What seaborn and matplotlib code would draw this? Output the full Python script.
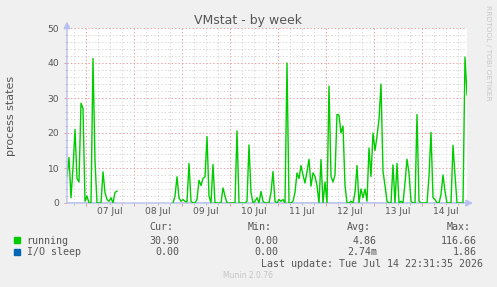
import numpy as np
import pandas as pd
import matplotlib
matplotlib.use("Agg")
import matplotlib.pyplot as plt
import matplotlib.dates as mdates
from matplotlib.ticker import MultipleLocator, NullFormatter, FuncFormatter
from matplotlib.patches import Rectangle
import seaborn as sns

nan = np.nan
# hourly samples, first one at 06 Jul 14:30
start = "2026-07-06 14:30"
running = [7.5, 13, 1.5, 10, 21, 7, 6, 28.5, 27, 0.5,
           2, 0, 0, 41.3, 12, 0, 0, 0, 8.9, 3,
           1, 0.5, 1.5, 0, 3, 3.4] + [nan]*27 + [
           0, 2, 7.5, 1.5, 0.5, 1, 0.5, 0.3, 11.3, 0.5,
           0, 0, 1, 6.5, 5, 7, 7.5, 19, 2, 0,
           11, 0, 0, 0, 0, 4.3, 2, 0, 0, 0,
           0, 0, 20.6, 0, 0, 0, 0, 0.5, 16.6, 3,
           0, 0.5, 1.5, 0, 3.3, 0.5, 0, 0, 0, 3,
           9, 0.5, 0, 1, 0.5, 1, 0, 40, 0, 0,
           0.5, 3, 8.6, 7, 10.7, 8, 5.7, 9, 12.5, 4.8,
           8.6, 7.6, 5, 0, 12.4, 0, 6, 0, 33.4, 7.6,
           6, 8, 25.3, 25.1, 20, 22, 5, 0, 0, 0.5,
           0, 3, 10.7, 0, 4, 1.5, 4, 0.5, 15.7, 7.6,
           20, 15, 19, 24, 34, 9, 5, 0.5, 0, 0,
           10.9, 0, 11.3, 0, 0.5, 0, 5.7, 12.5, 8.6, 0.5,
           0, 0, 25.3, 0.5, 0, 0, 0, 0, 7.6, 20.2,
           1.5, 1, 0, 0, 2.4, 8, 3.3, 0, 0, 0,
           16.5, 8, 0, 0, 0, 0, 41.7, 30.9]
io_sleep = [0.0 if not np.isnan(v) else nan for v in running]

names = ["running", "I/O sleep"]
colors = ["#00cc00", "#0066b3"]
cur = ["30.90", "0.00"]
mins = ["0.00", "0.00"]
avgs = ["4.86", "2.74m"]
maxs = ["116.66", "1.86"]

W, H = 497, 287
TXT = "#555555"
fig = plt.figure(figsize=(W/100, H/100), dpi=100, facecolor="#f0f0f0")
ax = fig.add_axes([67/W, 1-203/H, 400/W, 175/H])
ax.set_facecolor("white")
plt.rcParams["lines.scale_dashes"] = False

times = pd.date_range(start, periods=len(running), freq="h")
df = pd.DataFrame({"time": times, "running": running, "io": io_sleep})
df["seg"] = df["running"].isna().cumsum()
d = df.dropna()
sns.lineplot(data=d, x="time", y="io", units="seg", estimator=None, color=colors[1],
             lw=1, ax=ax, legend=False, zorder=2)
sns.lineplot(data=d, x="time", y="running", units="seg", estimator=None, color=colors[0],
             lw=1, ax=ax, legend=False, zorder=4)
ax.set_xlabel("")
ax.set_ylabel("")
ax.set_xlim(times[0], times[-1])
ax.set_ylim(0, 50)

# grid / ticks
ax.xaxis.set_major_locator(mdates.DayLocator())
ax.xaxis.set_minor_locator(mdates.HourLocator(byhour=[6, 12, 18]))
ax.xaxis.set_major_formatter(NullFormatter())
def noon(v, p):
    t = mdates.num2date(v)
    return t.strftime("%d %b") if t.hour == 12 else ""
ax.xaxis.set_minor_formatter(FuncFormatter(noon))
ax.yaxis.set_major_locator(MultipleLocator(10))
ax.yaxis.set_minor_locator(MultipleLocator(2))
ax.set_axisbelow(True)
ax.grid(which="minor", color="#d8d8d8", ls=(0, (1, 1.5)), lw=0.7)
ax.grid(which="major", color="#eca0a0", ls=(0, (1, 1.5)), lw=0.7)
ax.tick_params(which="both", direction="out", labelsize=6.6, labelcolor=TXT, width=0.7)
ax.tick_params(which="major", color="#e89a9a", length=2)
ax.tick_params(which="minor", color="#bbbbbb", length=1.5)
ax.tick_params(axis="x", which="both", pad=1.5)
ax.tick_params(axis="y", which="both", pad=3.5)
for s in ax.spines.values():
    s.set_visible(False)

# rrdtool style axes with arrows
arr = dict(arrowstyle="-|>,head_length=0.4,head_width=0.2", color="#b8bfee", lw=1,
           shrinkA=0, shrinkB=0)
ax.annotate("", xy=(0, 1+6.5/175), xytext=(0, 0), xycoords="axes fraction",
            arrowprops=arr, annotation_clip=False, zorder=5)
ax.annotate("", xy=(1+6/400, 0), xytext=(0, 0), xycoords="axes fraction",
            arrowprops=arr, annotation_clip=False, zorder=3)

fig.text(248.3/W, 1-24/H, "VMstat - by week", ha="center", va="baseline", fontsize=9, color=TXT)
fig.text(11/W, 1-115.5/H, "process states", rotation=90, ha="center", va="center",
         fontsize=8, color=TXT)
fig.text(488/W, 1-53/H, "RRDTOOL / TOBI OETIKER", rotation=270, ha="center", va="center",
         fontsize=5.4, color="#c8c8c8")

# legend table
mono = dict(family="DejaVu Sans Mono", fontsize=7.2, color=TXT, va="baseline")
cols = [179, 278, 377, 476.5]
for x, h in zip(cols, ["Cur:", "Min:", "Avg:", "Max:"]):
    fig.text((x-6)/W, 1-230.3/H, h, ha="right", **mono)
for i, (n, c) in enumerate(zip(names, colors)):
    yb = 243.6 + i*11.7
    fig.patches.append(Rectangle((14/W, 1-(yb-0.3)/H), 6/W, 6/H, transform=fig.transFigure,
                                 color=c, figure=fig))
    fig.text(26.7/W, 1-yb/H, n, ha="left", **mono)
    for x, v in zip(cols, [cur[i], mins[i], avgs[i], maxs[i]]):
        fig.text(x/W, 1-yb/H, v, ha="right", **mono)
fig.text(483/W, 1-267/H, "Last update: Tue Jul 14 22:31:35 2026", ha="right", **mono)
fig.text(247.7/W, 1-276/H, "Munin 2.0.76", ha="center", va="center", fontsize=5.5, color="#c4c4c4")

fig.savefig("out.png", dpi=100, facecolor=fig.get_facecolor())
